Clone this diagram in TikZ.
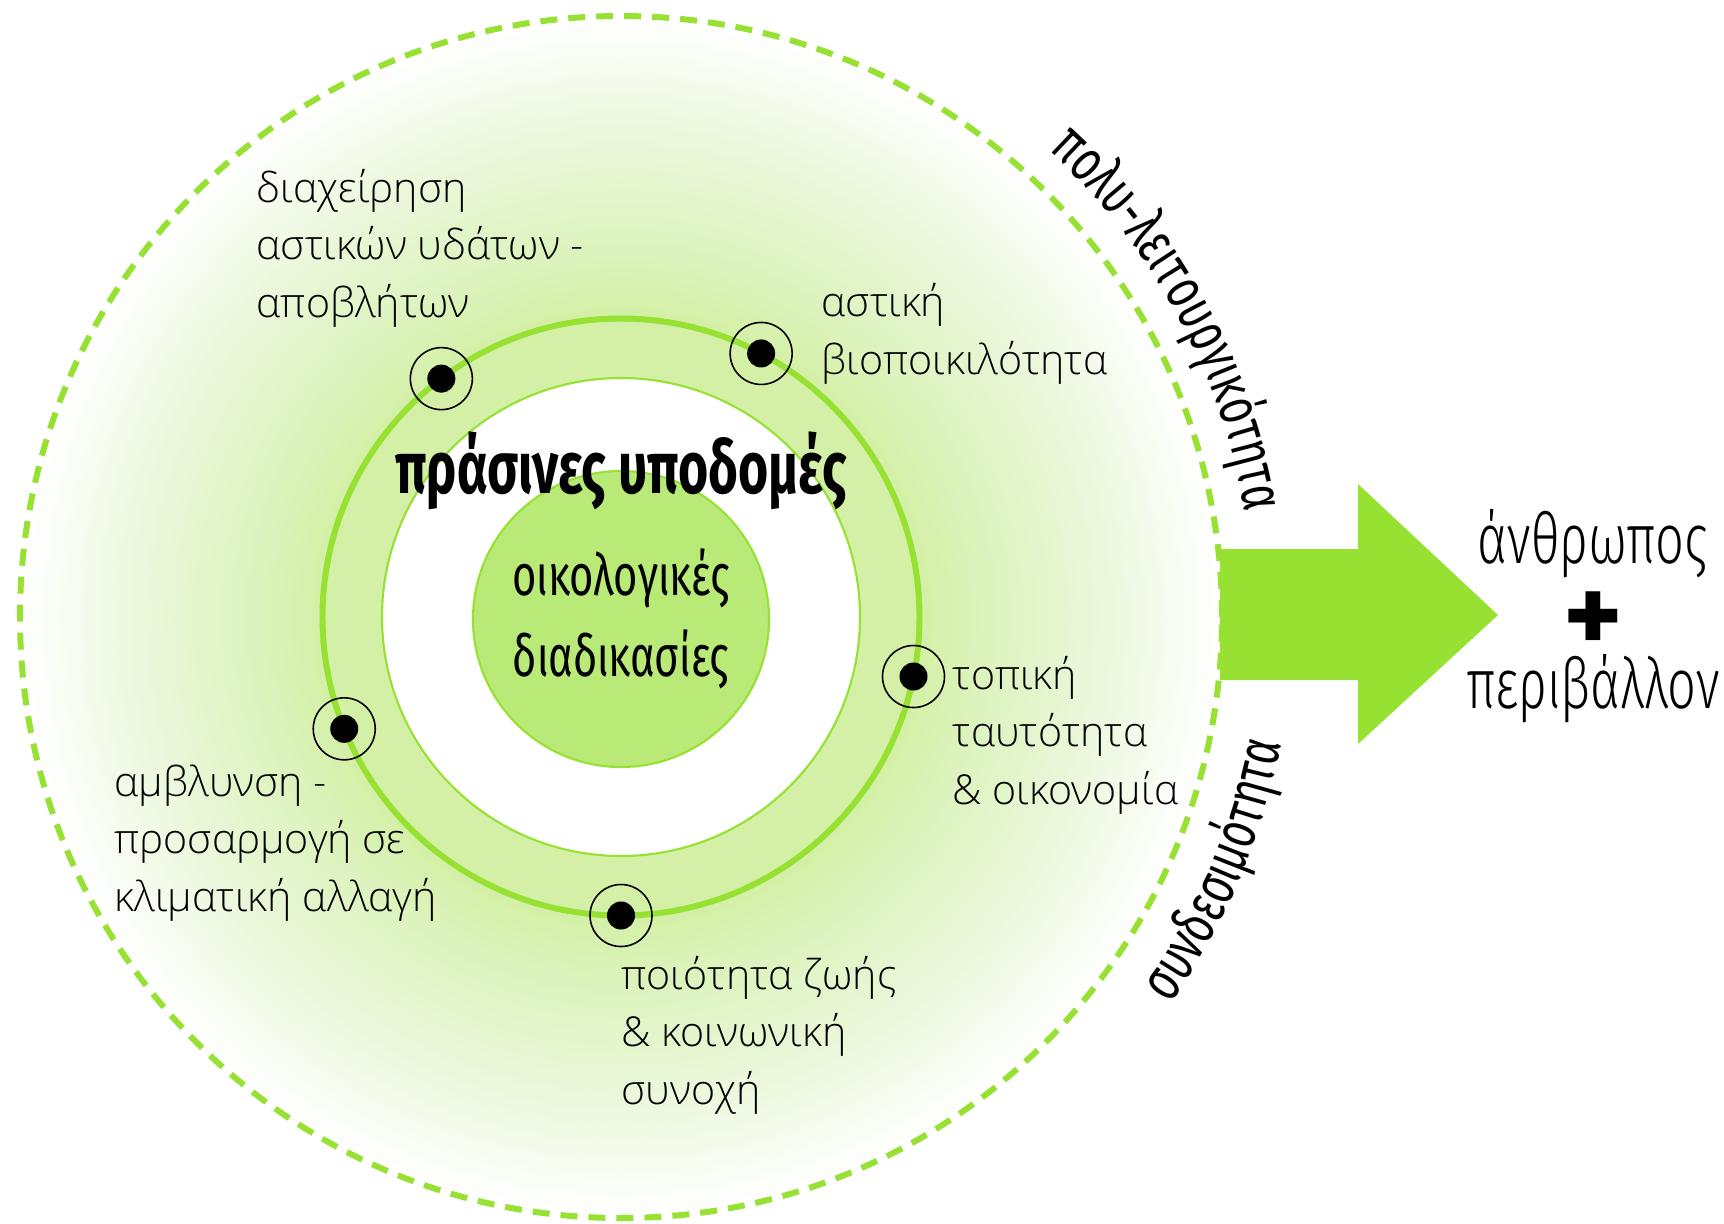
\documentclass[tikz,border=0pt]{standalone}
\usepackage{fontspec}
\setmainfont{Open Sans Light}
\newfontfamily\condfont[FakeStretch=0.72]{Fira Sans}
\newfontfamily\condtall[FakeStretch=0.7]{Fira Sans}
\newfontfamily\condlight[FakeStretch=0.72]{Fira Sans Light}
\newfontfamily\plainfont{Fira Sans}
\usepackage{tikz}
\usetikzlibrary{positioning,decorations.text}
\usepackage{xcolor}
\definecolor{grgreen}{RGB}{150,225,50}
\definecolor{grcore}{RGB}{185,234,120}
\definecolor{grglow}{RGB}{211,240,166}
\definecolor{grsoft}{RGB}{220,243,188}
\definecolor{grmid}{RGB}{233,247,216}
\pgfdeclareradialshading{glow}{\pgfpoint{0bp}{0bp}}{color(0bp)=(grglow); color(12.5bp)=(grglow); color(15bp)=(grsoft); color(19.5bp)=(grmid); color(25bp)=(white); color(50bp)=(white)}
\tikzstyle{topic} = [font=\fontsize{11.7}{16.4}\selectfont, align=left, anchor=west, inner sep=0pt]
\tikzstyle{dotring} = [circle, draw=black, line width=0.45pt, minimum size=0.62cm, inner sep=0pt]
\tikzstyle{dotcore} = [circle, fill=black, minimum size=0.28cm, inner sep=0pt]
\tikzstyle{outcome} = [font=\condlight\fontsize{20}{22}\selectfont, inner sep=0pt]

\begin{document}
\begin{tikzpicture}
    \useasboundingbox (-6.21,-6.06) rectangle (11.03,6.17);

    % Glow and rings
    \shade[shading=glow] (0,0) circle (6.01);
    \fill[grgreen] (5.99,0.68) -- (7.37,0.68) -- (7.37,1.33) -- (8.77,0.02) -- (7.37,-1.27) -- (7.37,-0.63) -- (5.99,-0.63) -- cycle;
    \draw[grgreen, line width=1.7pt, dash pattern=on 0.17cm off 0.11cm] (0,0) circle (6.01);
    \draw[grgreen, line width=1.7pt] (0,0) circle (2.985);
    \draw[grgreen, line width=0.6pt, fill=white] (0,0) circle (2.39);

    % Central node
    \node[circle, fill=grcore, draw=grgreen, line width=0.6pt, minimum size=2.96cm, align=center,
          font=\condfont\fontsize{16.5}{23}\selectfont] (eco) at (0,-0.02) {οικολογικές\\διαδικασίες};
    \node[font=\condtall\bfseries\fontsize{21}{24}\selectfont, inner sep=0pt] (infra) at (0,1.46) {πράσινες υποδομές};

    % Points on the ring
    \node[dotring] (r1) at (127:2.985) {};
    \node[dotcore] (d1) at (127:2.985) {};
    \node[dotring] (r2) at (62:2.985) {};
    \node[dotcore] (d2) at (62:2.985) {};
    \node[dotring] (r3) at (-11.5:2.985) {};
    \node[dotcore] (d3) at (-11.5:2.985) {};
    \node[dotring] (r4) at (202:2.985) {};
    \node[dotcore] (d4) at (202:2.985) {};
    \node[dotring] (r5) at (-90:2.985) {};
    \node[dotcore] (d5) at (-90:2.985) {};

    % Benefits
    \node[topic] (water) at (-3.65,3.69) {διαχείρηση\\αστικών υδάτων -\\αποβλήτων};
    \node[topic] (bio) at (2.00,2.83) {αστική\\βιοποικιλότητα};
    \node[topic] (local) at (3.31,-1.18) {τοπική\\ταυτότητα\\\& οικονομία};
    \node[topic] (climate) at (-5.07,-2.26) {αμβλυνση -\\προσαρμογή σε\\κλιματική αλλαγή};
    \node[topic] (life) at (0.00,-4.18) {ποιότητα ζωής\\\& κοινωνική\\συνοχή};

    % Curved captions
    \path[decorate, decoration={text along path, text align=center,
          text={|\condtall\fontsize{17}{17}\selectfont|πολυ-λειτουργικότητα}}]
          (52:6.33) arc[start angle=52, end angle=5, radius=6.33];
    \path[decorate, decoration={text along path, text align=center,
          text={|\condtall\fontsize{17}{17}\selectfont|συνδεσιμότητα}}]
          (-40:6.72) arc[start angle=-40, end angle=-6, radius=6.72];

    % Outcome
    \node[outcome] (human) at (9.72,0.73) {άνθρωπος};
    \node[font=\plainfont\bfseries\fontsize{32}{32}\selectfont, inner sep=0pt] (plus) at (9.72,-0.06) {+};
    \node[outcome] (env) at (9.72,-0.72) {περιβάλλον};
\end{tikzpicture}
\end{document}
